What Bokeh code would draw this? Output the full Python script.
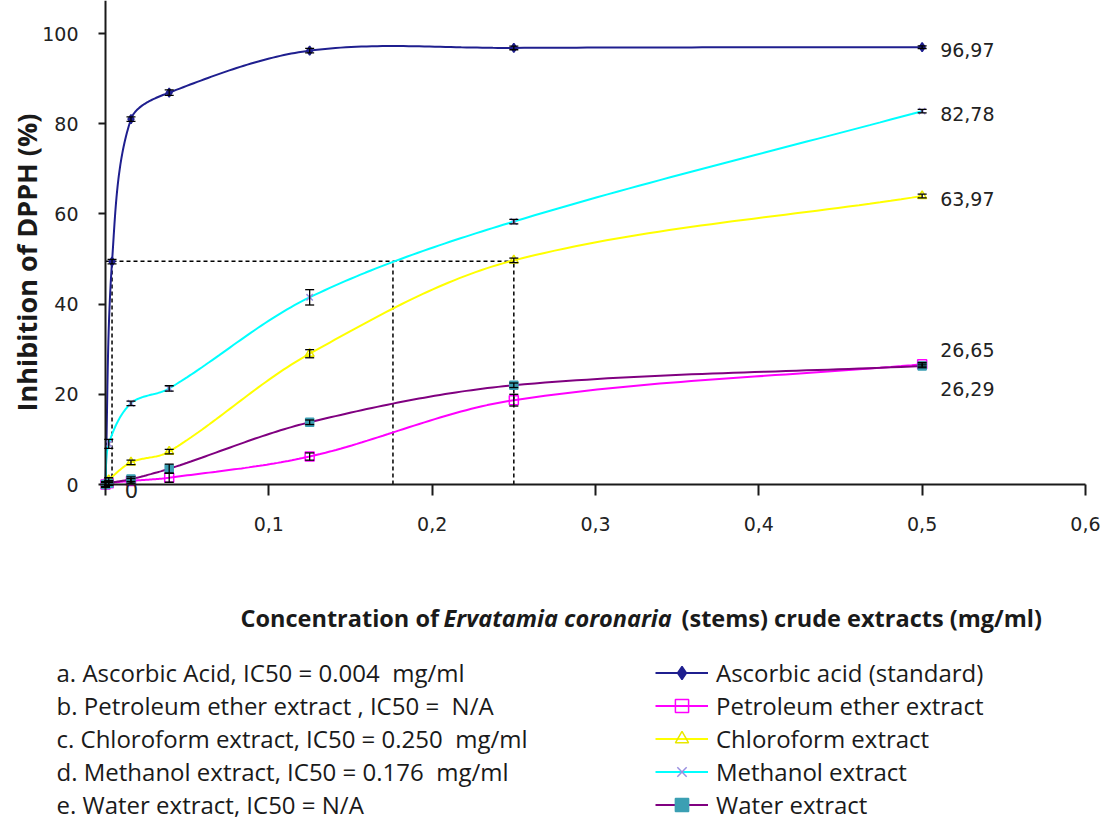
import math
import numpy as np
from bokeh.plotting import figure
from bokeh.models import (ColumnDataSource, FixedTicker, CustomJSTickFormatter, Whisker,
                          TeeHead, Legend, LegendItem, Label)
from bokeh.core.properties import value
from bokeh.embed import file_html
from bokeh.resources import INLINE

# ---- data: DPPH inhibition (%) vs concentration (mg/ml) ----
conc_std = [0, 0.004, 0.0156, 0.039, 0.125, 0.25, 0.5]
conc_ext = [0, 0.002, 0.0156, 0.039, 0.125, 0.25, 0.5]

ascorbic = [0, 49.4, 81.0, 86.9, 96.2, 96.8, 96.97]
petroleum = [0, 0.3, 0.8, 1.5, 6.2, 18.7, 26.65]
chloroform = [0, 1.0, 4.9, 7.3, 29.0, 49.7, 63.97]
methanol = [0, 9.0, 18.0, 21.3, 41.5, 58.3, 82.78]
water = [0, 0.3, 1.2, 3.5, 13.8, 22.0, 26.29]

err_ascorbic = [0.5, 0.5, 0.5, 0.6, 0.5, 0.4, 0.3]
err_petroleum = [0.5, 0.5, 0.5, 1.0, 0.8, 1.3, 0.4]
err_chloroform = [0.5, 0.5, 0.5, 0.5, 0.9, 0.5, 0.4]
err_methanol = [0.5, 1.0, 0.5, 0.6, 1.7, 0.5, 0.4]
err_water = [0.5, 0.5, 0.5, 1.0, 0.5, 0.5, 0.4]

series_names = ["Ascorbic acid (standard)", "Petroleum ether extract",
                "Chloroform extract", "Methanol extract", "Water extract"]

ic50_values = [0.004, 0.176, 0.250]
ic50_level = 49.5

NB = "\u00a0"
notes = [f"a. Ascorbic Acid, IC50 = 0.004 {NB}mg/ml",
         f"b. Petroleum ether extract , IC50 = {NB}N/A",
         f"c. Chloroform extract, IC50 = 0.250 {NB}mg/ml",
         f"d. Methanol extract, IC50 = 0.176 {NB}mg/ml",
         "e. Water extract, IC50 = N/A"]

x_ticks = [0, 0.1, 0.2, 0.3, 0.4, 0.5, 0.6]
y_ticks = [0, 20, 40, 60, 80, 100]

# ---- page geometry: the frame spans the whole canvas ----
W, H = 1105, 822
SX = 1633.3          # px per mg/ml
SY = 4.51            # px per %
X0_PX, Y0_PX = 105, 484   # where the origin sits on the page
x_start = -X0_PX / SX
x_end = x_start + W / SX
y_start = -(H - Y0_PX) / SY
y_end = Y0_PX / SY

TEXT_FONT = "Open Sans"
NOTE_SIZE = "24px"
ROW_STEP = 33
ROW0 = 672
LEGEND_BOTTOM = ROW0 + 4 * ROW_STEP + (ROW_STEP + 1) // 2


def dx(px):
    return (px - X0_PX) / SX


def dy(py):
    return (Y0_PX - py) / SY


def smooth(xs, ys, n=40):
    """Smooth Bezier curve through the points; tangents are scaled by the
    neighbouring chord lengths (measured on screen) to avoid wiggles."""
    pts = [np.array([a * SX, b * SY], dtype=float) for a, b in zip(xs, ys)]
    m = len(pts)
    tang = []
    for i in range(m):
        a = pts[i - 1] if i > 0 else pts[i]
        b = pts[i + 1] if i < m - 1 else pts[i]
        da = np.linalg.norm(pts[i] - a)
        db = np.linalg.norm(b - pts[i])
        tang.append((b - a) / (da + db) if da + db > 0 else np.zeros(2))
    out_x, out_y = [], []
    t = np.linspace(0, 1, n)
    for i in range(m - 1):
        p1, p2 = pts[i], pts[i + 1]
        d = np.linalg.norm(p2 - p1)
        c1 = p1 + tang[i] * d / 3.0
        c2 = p2 - tang[i + 1] * d / 3.0
        b = (((1 - t) ** 3)[:, None] * p1 + (3 * (1 - t) ** 2 * t)[:, None] * c1
             + (3 * (1 - t) * t ** 2)[:, None] * c2 + (t ** 3)[:, None] * p2)
        if i > 0:
            b = b[1:]
        out_x.extend(b[:, 0] / SX)
        out_y.extend(b[:, 1] / SY)
    return out_x, out_y


p = figure(width=W, height=H, x_range=(x_start, x_end), y_range=(y_start, y_end),
           output_backend="svg", toolbar_location=None,
           min_border_left=0, min_border_right=0, min_border_top=0, min_border_bottom=0)
p.outline_line_color = None
p.grid.visible = False
p.background_fill_color = "white"
p.border_fill_color = "white"

# axes crossing at the origin
for ax in (p.xaxis[0], p.yaxis[0]):
    ax.fixed_location = 0
    ax.axis_line_color = "#1a1a1a"
    ax.axis_line_width = 2
    ax.major_tick_line_color = "#1a1a1a"
    ax.major_tick_line_width = 2
    ax.major_tick_in = 0
    ax.minor_tick_line_color = None
    ax.major_label_text_font = "DejaVu Sans"
    ax.major_label_text_font_size = "19px"
    ax.major_label_text_color = "#222222"

p.xaxis.ticker = FixedTicker(ticks=x_ticks)
p.xaxis.formatter = CustomJSTickFormatter(
    code='return tick == 0 ? "" : tick.toFixed(1).replace(".", ",");')
p.xaxis.major_tick_out = 11
p.xaxis.major_label_standoff = 21
p.xaxis.bounds = (0, 0.6)

p.yaxis.ticker = FixedTicker(ticks=y_ticks)
p.yaxis.formatter = CustomJSTickFormatter(code='return tick.toFixed(0);')
p.yaxis.major_tick_out = 7
p.yaxis.major_label_standoff = 20
p.yaxis.bounds = (0, y_end)

# IC50 guide lines
p.segment(x0=[0], y0=[ic50_level], x1=[max(ic50_values)], y1=[ic50_level],
          line_color="black", line_width=1.5, line_dash="4 3")
p.segment(x0=ic50_values, y0=[0] * len(ic50_values), x1=ic50_values,
          y1=[ic50_level] * len(ic50_values),
          line_color="black", line_width=1.5, line_dash="4 3")

styles = [
    dict(xs=conc_std, ys=ascorbic, err=err_ascorbic, line="#1f1f8f", marker="diamond",
         mcolor="#1f1f8f", fill="#1f1f8f", size=9),
    dict(xs=conc_ext, ys=petroleum, err=err_petroleum, line="#ff00ff", marker="square",
         mcolor="#ff00ff", fill=None, size=9),
    dict(xs=conc_ext, ys=chloroform, err=err_chloroform, line="#ffff00", marker="triangle",
         mcolor="#e8e800", fill=None, size=9),
    dict(xs=conc_ext, ys=methanol, err=err_methanol, line="#00ffff", marker="x",
         mcolor="#9a8fe0", fill=None, size=9),
    dict(xs=conc_ext, ys=water, err=err_water, line="#800080", marker="square",
         mcolor="#3b9fb3", fill="#3b9fb3", size=8),
]

items = []
for name, st in zip(series_names, styles):
    cx, cy = smooth(st["xs"], st["ys"])
    lr = p.line(cx, cy, line_color=st["line"], line_width=2)
    src = ColumnDataSource(dict(
        x=st["xs"], y=st["ys"],
        lower=[v - e for v, e in zip(st["ys"], st["err"])],
        upper=[v + e for v, e in zip(st["ys"], st["err"])]))
    sr = p.scatter("x", "y", source=src, marker=st["marker"], size=st["size"],
                   line_color=st["mcolor"], fill_color=st["fill"], line_width=1.5)
    wk = Whisker(base="x", lower="lower", upper="upper", source=src,
                 line_color="black", line_width=1.3, level="overlay",
                 upper_head=TeeHead(size=9, line_color="black", line_width=1.3),
                 lower_head=TeeHead(size=9, line_color="black", line_width=1.3))
    p.add_layout(wk)
    items.append(LegendItem(label=name, renderers=[lr, sr]))

# end-point value labels
end_vals = [ascorbic[-1], methanol[-1], chloroform[-1], petroleum[-1], water[-1]]
lab_src = ColumnDataSource(dict(
    x=[conc_ext[-1]] * len(end_vals), y=end_vals,
    t=[f"{v:.2f}".replace(".", ",") for v in end_vals],
    yoff=[3, 3, 3, -14, 23]))
p.text("x", "y", text="t", source=lab_src, x_offset=18, y_offset="yoff",
       text_font=value("DejaVu Sans"), text_font_size="19px", text_color="#222222",
       text_baseline="middle", text_align="left")

p.add_layout(Label(x=dx(131), y=dy(489), text="0", text_font="DejaVu Sans",
                   text_font_size="21px", text_color="#222222",
                   text_align="center", text_baseline="middle"))

# axis titles
p.add_layout(Label(x=dx(26), y=dy(262), text="Inhibition of DPPH (%)", angle=math.pi / 2,
                   text_font=TEXT_FONT, text_font_style="bold", text_font_size="27px",
                   text_color="#1a1a1a", text_align="center", text_baseline="middle"))
title_parts = [("Concentration of", "bold", 240),
               ("Ervatamia coronaria", "bold italic", 443),
               ("(stems) crude extracts (mg/ml)", "bold", 681)]
for txt, style, px in title_parts:
    p.add_layout(Label(x=dx(px), y=dy(617), text=txt, text_font=TEXT_FONT,
                       text_font_style=style, text_font_size="23.5px", text_color="#1a1a1a",
                       text_align="left", text_baseline="middle"))

# IC50 notes
for i, txt in enumerate(notes):
    p.add_layout(Label(x=dx(56), y=dy(ROW0 + i * ROW_STEP), text=txt, text_font=TEXT_FONT,
                       text_font_size=NOTE_SIZE, text_color="#1a1a1a",
                       text_align="left", text_baseline="middle"))

legend = Legend(items=items, location=(655, H - LEGEND_BOTTOM),
                glyph_width=53, glyph_height=ROW_STEP, label_height=ROW_STEP, spacing=0,
                label_standoff=8, padding=0, margin=0, border_line_color=None,
                background_fill_alpha=0, label_text_font=TEXT_FONT,
                label_text_font_size=NOTE_SIZE, label_text_color="#1a1a1a")
p.add_layout(legend)

open("out.html", "w").write(file_html(p, INLINE))
